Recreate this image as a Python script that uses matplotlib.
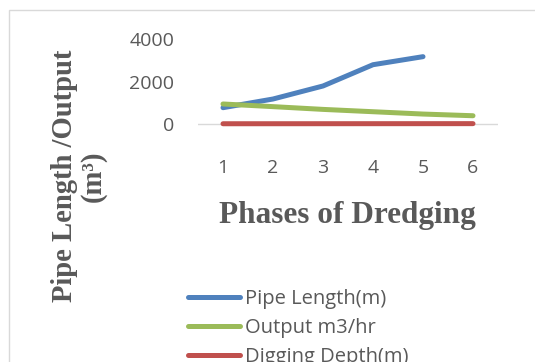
import matplotlib
matplotlib.use("Agg")
import matplotlib.pyplot as plt
from matplotlib.patches import Rectangle

phases = [1, 2, 3, 4, 5, 6]
pipe_length = [770, 1180, 1795, 2800, 3180, None]
output_m3hr = [945, 820, 690, 580, 470, 390]
digging_depth = [12, 13, 14, 15, 16, 17]
yticks = [0, 2000, 4000]

TXT = "#595959"
fig = plt.figure(figsize=(5.35, 3.62), dpi=100)
W, H = 535, 362

# chart border
fig.patches.append(Rectangle((9 / W, -0.1), 1.2, 1 - 10 / H + 0.1, transform=fig.transFigure,
                             fill=False, edgecolor="#D9D9D9", linewidth=1.0))

ymin, ymax = -1500, 4000
px_per = (124 - 39.3) / 4000
bottom_px = 124 + 1500 * px_per
ax = fig.add_axes([198 / W, 1 - bottom_px / H, 300 / W, (bottom_px - 39.3) / H])
ax.set_xlim(0.5, 6.5)
ax.set_ylim(ymin, ymax)
for s in ax.spines.values():
    s.set_visible(False)
ax.axhline(0, color="#D9D9D9", linewidth=1.0, zorder=1)

pl_x = [p for p, v in zip(phases, pipe_length) if v is not None]
pl_y = [v for v in pipe_length if v is not None]
kw = dict(lw=3.6, solid_capstyle="round", solid_joinstyle="round", zorder=3)
l1, = ax.plot(pl_x, pl_y, color="#4F81BD", label="Pipe Length(m)", **kw)
l2, = ax.plot(phases, output_m3hr, color="#9BBB59", label="Output m3/hr", **kw)
l3, = ax.plot(phases, digging_depth, color="#C0504D", label="Digging Depth(m)", **kw)

ax.set_yticks(yticks)
ax.set_yticklabels([str(t) for t in yticks], fontfamily="Open Sans", fontsize=14, color=TXT)
ax.set_xticks(phases)
ax.set_xticklabels([str(p) for p in phases], fontfamily="Open Sans", fontsize=14, color=TXT)
ax.tick_params(axis="y", length=0, pad=17)
ax.tick_params(axis="x", length=0, pad=2)

fig.text(347 / W, 1 - 215 / H, "Phases of Dredging", ha="center", va="center",
         fontfamily="Liberation Serif", fontweight="bold", fontsize=22.5, color=TXT)
fig.text(79 / W, 1 - 176 / H, "Pipe Length /Output\n(m³)", ha="center", va="center",
         rotation=90, fontfamily="Liberation Serif", fontweight="bold", fontsize=20.6, color=TXT,
         linespacing=1.1, multialignment="center")

leg = fig.legend(handles=[l1, l2, l3], loc="upper left", bbox_to_anchor=(188 / W, 1 - 289 / H),
                 frameon=False, prop={"family": "Open Sans", "size": 14.5}, handlelength=2.6,
                 handletextpad=0.22, labelspacing=0.45, borderaxespad=0, borderpad=0)
for t in leg.get_texts():
    t.set_color(TXT)

fig.savefig("out.png", dpi=100)
